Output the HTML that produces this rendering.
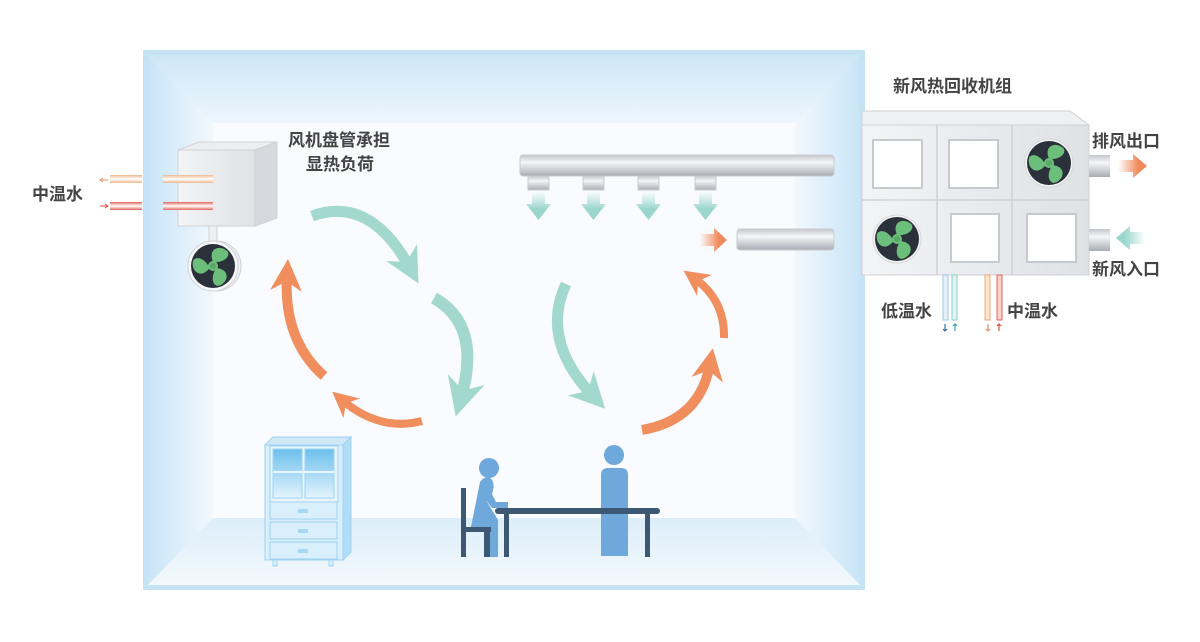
<!DOCTYPE html>
<html><head><meta charset="utf-8"><style>
html,body{margin:0;padding:0;background:#fff;}
svg{display:block;}
text{font-family:"Liberation Sans","Noto Sans CJK SC",sans-serif;fill:#444;font-weight:bold;}
</style></head><body>
<svg width="1200" height="642" viewBox="0 0 1200 642" xmlns="http://www.w3.org/2000/svg">
<defs>
<linearGradient id="lw" x1="0" x2="1" y1="0" y2="0"><stop offset="0" stop-color="#c8e5f7"/><stop offset="1" stop-color="#f2f8fd"/></linearGradient>
<linearGradient id="rw" x1="1" x2="0" y1="0" y2="0"><stop offset="0" stop-color="#c8e5f7"/><stop offset="1" stop-color="#f2f8fd"/></linearGradient>
<linearGradient id="tw" x1="0" x2="0" y1="0" y2="1"><stop offset="0" stop-color="#cde7f8"/><stop offset="1" stop-color="#eef6fc"/></linearGradient>
<linearGradient id="fw" x1="0" x2="0" y1="0" y2="1"><stop offset="0" stop-color="#dceefa"/><stop offset="1" stop-color="#f3f9fd"/></linearGradient>
<linearGradient id="pipe" x1="0" x2="0" y1="0" y2="1"><stop offset="0" stop-color="#c4c7cc"/><stop offset="0.35" stop-color="#f4f5f7"/><stop offset="1" stop-color="#a9adb4"/></linearGradient>
<linearGradient id="box" x1="0" x2="1"><stop offset="0" stop-color="#f3f4f6"/><stop offset="1" stop-color="#dfe1e5"/></linearGradient>
<linearGradient id="tealD" x1="0" x2="0" y1="0" y2="1"><stop offset="0" stop-color="#a8dcd4" stop-opacity="0"/><stop offset="0.6" stop-color="#9ad6cd"/></linearGradient>
<linearGradient id="orR" x1="0" x2="1"><stop offset="0" stop-color="#f08a5a" stop-opacity="0"/><stop offset="0.7" stop-color="#f08a5a"/></linearGradient>
<linearGradient id="tlL" x1="1" x2="0"><stop offset="0" stop-color="#9ad6cd" stop-opacity="0"/><stop offset="0.7" stop-color="#9ad6cd"/></linearGradient>
<linearGradient id="glass" x1="0" x2="0" y1="0" y2="1"><stop offset="0" stop-color="#6cc0ec"/><stop offset="1" stop-color="#e4f3fc"/></linearGradient>
<linearGradient id="po" x1="0" x2="0" y1="0" y2="1"><stop offset="0" stop-color="#f0b88e"/><stop offset="0.5" stop-color="#fff"/><stop offset="1" stop-color="#f0b88e"/></linearGradient>
<linearGradient id="pr" x1="0" x2="0" y1="0" y2="1"><stop offset="0" stop-color="#e0665a"/><stop offset="0.5" stop-color="#fff"/><stop offset="1" stop-color="#e0665a"/></linearGradient>
<marker id="ht" viewBox="0 0 10 10" refX="5" refY="5" markerWidth="3.2" markerHeight="3.2" orient="auto"><path d="M0,0 L10,5 L0,10 L3,5Z" fill="#a3d8cf"/></marker>
<marker id="ho" viewBox="0 0 10 10" refX="5" refY="5" markerWidth="3.2" markerHeight="3.2" orient="auto"><path d="M0,0 L10,5 L0,10 L3,5Z" fill="#f08e5e"/></marker>
<g id="fan"><circle r="22" fill="#2b313a"/><g fill="#6cbf7a"><path id="bl" d="M0,-4 C-6,-18 8,-22 15,-14 C17,-8 9,-3 0,-4Z"/><use href="#bl" transform="rotate(120)"/><use href="#bl" transform="rotate(240)"/><circle r="5"/></g><circle r="3" fill="#5aa868"/></g>
</defs>

<rect x="143" y="50" width="722" height="540" fill="#c5e3f5"/>
<rect x="148" y="55" width="712" height="530" fill="#f8fbfe"/>
<polygon points="148,55 213,123 213,518 148,585" fill="url(#lw)"/>
<polygon points="860,55 795,123 795,518 860,585" fill="url(#rw)"/>
<polygon points="148,55 860,55 795,123 213,123" fill="url(#tw)"/>
<polygon points="148,585 213,518 795,518 860,585" fill="url(#fw)"/>
<rect x="213" y="123" width="582" height="395" fill="#f9fbfe"/>

<polygon points="178,150 199,142 277,142 255,150" fill="#eceef1" stroke="#cfd2d6"/>
<polygon points="255,150 277,142 277,218 255,226" fill="#d6d9dd" stroke="#cfd2d6"/>
<rect x="178" y="150" width="77" height="76" fill="url(#box)" stroke="#cfd2d6"/>
<rect x="209" y="226" width="8" height="24" fill="#eef0f2" stroke="#cfd2d6"/>
<circle cx="216" cy="266" r="25" fill="#eef0f2" stroke="#cfd2d6"/>
<circle cx="213" cy="266" r="25" fill="#f7f8f9" stroke="#cfd2d6"/>
<use href="#fan" x="213" y="266"/>
<rect x="110" y="175" width="32" height="8" fill="url(#po)"/>
<rect x="163" y="175" width="50" height="8" fill="url(#po)"/>
<rect x="110" y="202" width="32" height="8" fill="url(#pr)"/>
<rect x="163" y="202" width="50" height="8" fill="url(#pr)"/>
<path d="M108,180 L100,180 M103,178 L100,180 L103,182" stroke="#e8935f" fill="none"/>
<path d="M100,206 L108,206 M105,204 L108,206 L105,208" stroke="#d9533f" fill="none"/>
<text x="32" y="200" font-size="17">中温水</text>
<text x="288" y="146" font-size="17">风机盘管承担</text>
<text x="306" y="170" font-size="17">显热负荷</text>

<rect x="520" y="155" width="314" height="21" rx="3" fill="url(#pipe)" stroke="#c8cbd0"/>
<g fill="url(#pipe)" stroke="#c8cbd0">
<rect x="528" y="176" width="21" height="14"/><rect x="583" y="176" width="21" height="14"/><rect x="638" y="176" width="21" height="14"/><rect x="695" y="176" width="21" height="14"/></g>
<g fill="url(#tealD)">
<path d="M532,192 h13 v12 h6 l-12.5,16 l-12.5,-16 h6z"/><path d="M587,192 h13 v12 h6 l-12.5,16 l-12.5,-16 h6z"/><path d="M642,192 h13 v12 h6 l-12.5,16 l-12.5,-16 h6z"/><path d="M699,192 h13 v12 h6 l-12.5,16 l-12.5,-16 h6z"/></g>
<rect x="737" y="229" width="97" height="21" rx="3" fill="url(#pipe)" stroke="#c8cbd0"/>
<path d="M700,234 h14 v-6 l13,12 l-13,12 v-6 h-14z" fill="url(#orR)"/>

<g fill="none" stroke-linecap="butt">
<path d="M312,216 Q370,195 410,268" stroke="#a3d8cf" stroke-width="11" marker-end="url(#ht)"/>
<path d="M434,298 Q482,325 461,398" stroke="#a3d8cf" stroke-width="12" marker-end="url(#ht)"/>
<path d="M566,284 Q540,340 593,396" stroke="#a3d8cf" stroke-width="11" marker-end="url(#ht)"/>
<path d="M324,376 Q283,340 287,275" stroke="#f08e5e" stroke-width="10" marker-end="url(#ho)"/>
<path d="M422,421 Q380,432 342,400" stroke="#f08e5e" stroke-width="8" marker-end="url(#ho)"/>
<path d="M642,430 Q700,420 710,364" stroke="#f08e5e" stroke-width="10" marker-end="url(#ho)"/>
<path d="M724,338 Q725,300 694,278" stroke="#f08e5e" stroke-width="8" marker-end="url(#ho)"/>
</g>

<polygon points="265,445 273,437 351,437 343,445" fill="#cfe9f9" stroke="#9fd2f1"/>
<polygon points="343,445 351,437 351,552 343,560" fill="#b2ddf6" stroke="#9fd2f1"/>
<rect x="265" y="445" width="78" height="115" fill="#d9effb" stroke="#9fd2f1"/>
<rect x="270" y="446" width="68" height="56" fill="#e8f5fd" stroke="#9fd2f1"/>
<rect x="273" y="449" width="29" height="49" fill="url(#glass)" stroke="#9fd2f1"/>
<rect x="305" y="449" width="29" height="49" fill="url(#glass)" stroke="#9fd2f1"/>
<line x1="273" y1="472" x2="334" y2="472" stroke="#e8f5fd" stroke-width="2"/>
<g fill="#d9effb" stroke="#9fd2f1"><rect x="270" y="502" width="67" height="17"/><rect x="270" y="522" width="67" height="17"/><rect x="270" y="542" width="67" height="17"/></g>
<g fill="#a6d7f3"><rect x="298" y="509" width="10" height="4"/><rect x="298" y="529" width="10" height="4"/><rect x="298" y="549" width="10" height="4"/></g>
<rect x="273" y="560" width="4" height="6" fill="#d9effb" stroke="#9fd2f1"/><rect x="329" y="560" width="4" height="6" fill="#d9effb" stroke="#9fd2f1"/>

<circle cx="489" cy="468" r="10" fill="#6fa8db"/>
<path d="M480,482 Q484,476 490,478 Q496,482 492,494 L496,502 L508,502 L508,508 L492,508 L486,500 L498,520 L498,557 L490,557 L490,532 L470,532 Z" fill="#6fa8db"/>
<rect x="461" y="488" width="5" height="69" fill="#3c5872"/>
<rect x="461" y="527" width="30" height="5" fill="#3c5872"/>
<rect x="484" y="527" width="6" height="30" fill="#3c5872"/>
<circle cx="614" cy="455" r="10" fill="#6fa8db"/>
<path d="M601,475 Q601,468 608,468 L621,468 Q628,468 628,475 L628,556 L601,556Z" fill="#6fa8db"/>
<rect x="495" y="508" width="165" height="6" rx="3" fill="#3c5872"/>
<rect x="504" y="512" width="5" height="45" fill="#3c5872"/>
<rect x="645" y="512" width="5" height="45" fill="#3c5872"/>

<text x="893" y="92" font-size="17">新风热回收机组</text>
<polygon points="862,111 1070,111 1089,125 862,125" fill="#eef0f2" stroke="#cfd2d6"/>
<rect x="862" y="125" width="227" height="150" fill="url(#box)" stroke="#cfd2d6"/>
<g stroke="#cfd2d6" stroke-width="1.5"><line x1="937" y1="125" x2="937" y2="275"/><line x1="1012" y1="125" x2="1012" y2="275"/><line x1="862" y1="200" x2="1089" y2="200"/></g>
<g fill="#fff" stroke="#c6c9cd" stroke-width="2">
<rect x="873" y="140" width="49" height="48"/><rect x="949" y="140" width="49" height="48"/>
<rect x="951" y="214" width="48" height="48"/><rect x="1027" y="214" width="49" height="48"/></g>
<circle cx="1049" cy="163" r="24" fill="#f2f3f5" stroke="#d5d7da"/><use href="#fan" x="1049" y="163"/>
<circle cx="897" cy="239" r="24" fill="#f2f3f5" stroke="#d5d7da"/><use href="#fan" x="897" y="239"/>
<rect x="1089" y="155" width="21" height="22" fill="url(#pipe)"/>
<rect x="1089" y="229" width="21" height="22" fill="url(#pipe)"/>
<path d="M1118,160 h15 v-6 l14,12 l-14,12 v-6 h-15z" fill="url(#orR)"/>
<path d="M1145,232 h-15 v-6 l-14,12 l14,12 v-6 h15z" fill="url(#tlL)"/>
<text x="1092" y="147" font-size="17">排风出口</text>
<text x="1092" y="275" font-size="17">新风入口</text>
<rect x="943" y="275" width="5" height="45" fill="#e4f1fb" stroke="#9cc8e8"/>
<rect x="952" y="275" width="5" height="45" fill="#e2f4f1" stroke="#8fd0c6"/>
<rect x="985" y="275" width="5" height="45" fill="#fde6d4" stroke="#f0a876"/>
<rect x="997" y="275" width="5" height="45" fill="#f9d2cc" stroke="#e0665a"/>
<g stroke-width="1.2" fill="none">
<path d="M945,324 v7 M943,329 l2,2 l2,-2" stroke="#3a6fa8"/>
<path d="M955,331 v-7 M953,326 l2,-2 l2,2" stroke="#3aa8a0"/>
<path d="M988,324 v7 M986,329 l2,2 l2,-2" stroke="#e8935f"/>
<path d="M999,331 v-7 M997,326 l2,-2 l2,2" stroke="#d9533f"/>
</g>
<text x="881" y="317" font-size="17">低温水</text>
<text x="1007" y="317" font-size="17">中温水</text>
</svg>
</body></html>
